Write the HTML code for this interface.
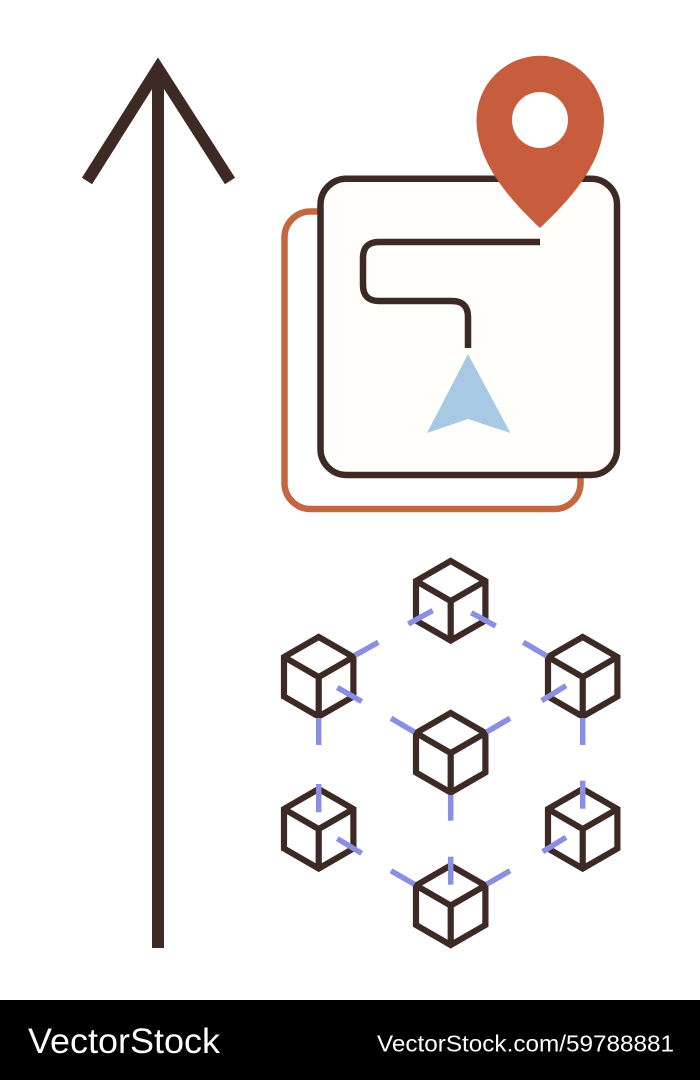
<!DOCTYPE html>
<html>
<head>
<meta charset="utf-8">
<style>
html,body{margin:0;padding:0;background:#fff;width:700px;height:1080px;overflow:hidden}
svg{display:block}
text{font-family:"Liberation Sans",sans-serif;fill:#fff}
</style>
</head>
<body>
<svg width="700" height="1080" viewBox="0 0 700 1080" xmlns="http://www.w3.org/2000/svg">
<defs>
<g id="cube" fill="none" stroke="#3e2a25" stroke-width="6.2" stroke-linejoin="miter">
<path d="M0 0 L34.7 20 V59.5 L0 79.5 L-34.7 59.5 V20 Z"/>
<path d="M-34.7 20 L0 40 L34.7 20 M0 40 V79.5"/>
</g>
</defs>
<rect width="700" height="1080" fill="#fff"/>

<!-- big arrow -->
<g fill="none" stroke="#3e2a25" stroke-width="12">
<path d="M158 948 V70"/>
<path d="M87 181 L158 68.5 L230 181" stroke-miterlimit="6"/>
</g>

<!-- squares -->
<rect x="284.5" y="211.5" width="296" height="297.5" rx="26" fill="none" stroke="#c4663f" stroke-width="6.5"/>
<rect x="320.5" y="178.7" width="296.5" height="296.3" rx="26" fill="#fffefb" stroke="#3e2a25" stroke-width="6.5"/>

<!-- route -->
<path d="M540 242 H379 Q363 242 363 258 V285 Q363 301 379 301 H452 Q468 301 468 317 V348" fill="none" stroke="#3e2a25" stroke-width="6.5"/>

<!-- nav triangle -->
<path d="M468 354 L510.5 433 L468 419 L427 433 Z" fill="#a8c9e3"/>

<!-- pin -->
<path d="M540 228 C516 205 476.5 166 476.5 120 A63.5 64 0 0 1 604 120 C604 166 564 205 540 228 Z" fill="#c85d3e"/>
<circle cx="540" cy="120" r="28" fill="#fff"/>

<!-- cubes -->
<use href="#cube" x="450.7" y="561"/>
<use href="#cube" x="318.7" y="637"/>
<use href="#cube" x="582.7" y="637"/>
<use href="#cube" x="450.7" y="713"/>
<use href="#cube" x="318.7" y="789"/>
<use href="#cube" x="582.7" y="789"/>
<use href="#cube" x="450.7" y="865.5"/>

<!-- connectors -->
<g fill="none" stroke="#8a8fe3" stroke-width="5.5">
<path d="M408.3 624 L432.7 610.5"/>
<path d="M471.3 612.8 L495.7 626"/>
<path d="M355 655.3 L378.3 642.3"/>
<path d="M337.3 687.5 L361.7 701.5"/>
<path d="M318.7 718 V745"/>
<path d="M523.3 642.3 L546.7 656"/>
<path d="M566 685.7 L541.7 700.7"/>
<path d="M582.7 718 V745"/>
<path d="M391 718.3 L414.3 732"/>
<path d="M510 718.3 L486.7 732"/>
<path d="M450.7 795 V820.7"/>
<path d="M318.7 784 V812.3"/>
<path d="M337.3 838.7 L361.7 853.3"/>
<path d="M582.7 780.7 V808.7"/>
<path d="M566 837.3 L542.7 851.7"/>
<path d="M391 870.7 L414.3 884.3"/>
<path d="M510 870.7 L486.7 884.3"/>
<path d="M450.7 856.7 V884.7"/>
</g>

<!-- footer -->
<rect x="0" y="1000" width="700" height="80" fill="#000"/>
<text x="28" y="1053" font-size="35" textLength="192" lengthAdjust="spacingAndGlyphs">VectorStock</text>
<text x="377" y="1051.5" font-size="23" textLength="297" lengthAdjust="spacingAndGlyphs">VectorStock.com/59788881</text>
</svg>
</body>
</html>
